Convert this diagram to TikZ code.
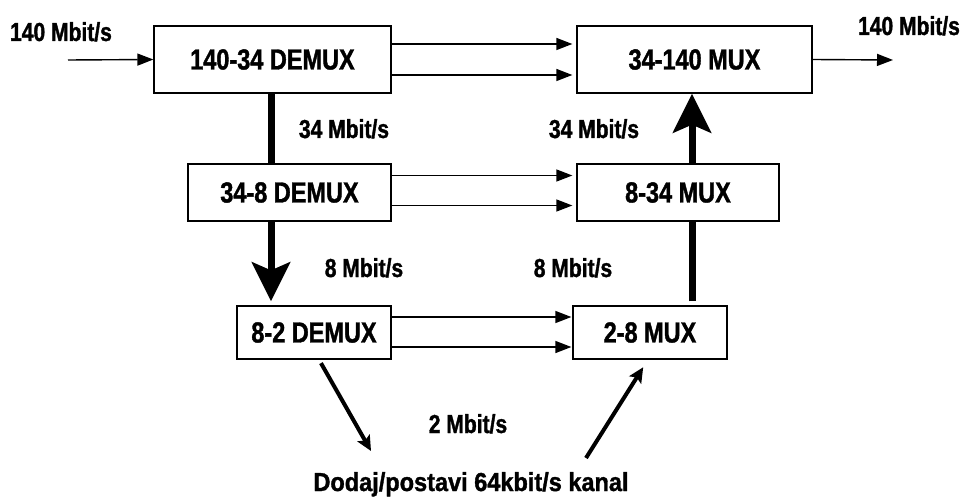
\documentclass[tikz,border=0pt]{standalone}
\usepackage{fontspec}
\newfontfamily\imp{Liberation Sans}[FakeStretch=0.81,FakeBold=1.3]
\newfontfamily\impw{Liberation Sans}[FakeStretch=0.905,FakeBold=1.3]
\usetikzlibrary{arrows.meta,calc}
\begin{document}
\begin{tikzpicture}[x=1pt,y=-1pt,
  box/.style={draw,line width=1.3pt,inner sep=0pt,font=\imp\bfseries\fontsize{29}{31}\selectfont},
  lbl/.style={anchor=base,inner sep=0pt,font=\imp\bfseries\fontsize{26}{28}\selectfont},
  thinarrow/.style={line width=1.4pt,-{Triangle[length=16pt,width=12pt]}},
  thickline/.style={line width=7pt},
  bigarrow/.style={line width=7pt,-{Stealth[length=39pt,width=38pt,inset=8pt]}},
  diagarrow/.style={line width=4pt,-{Stealth[length=15pt,width=14pt,inset=3pt]}}]
\useasboundingbox (0,0) rectangle (961,497);
% boxes
\node[box,minimum width=237pt,minimum height=67pt] (d1) at (272.5,59.5) {140-34 DEMUX};
\node[box,minimum width=203pt,minimum height=57pt] (d2) at (289.5,192.5) {34-8 DEMUX};
\node[box,minimum width=154pt,minimum height=53pt] (d3) at (314,332.5) {8-2 DEMUX};
\node[box,minimum width=235pt,minimum height=67pt] (m1) at (694.5,59.5) {34-140 MUX};
\node[box,minimum width=202pt,minimum height=57pt] (m2) at (678,192.5) {8-34 MUX};
\node[box,minimum width=154pt,minimum height=53pt] (m3) at (650,332.5) {2-8 MUX};
% helper coordinates
\coordinate (lx) at (271,0);
\coordinate (ux) at (692,0);
\coordinate (in) at (68,60);
\coordinate (out) at (893,60);
\coordinate (dd1) at (371,451);
\coordinate (dd2) at (586,458);
% labels
\node[lbl] (l1) at (61,41) {140 Mbit/s};
\node[lbl] (l2) at (909,35) {140 Mbit/s};
\node[lbl] (l3) at (344,138) {34 Mbit/s};
\node[lbl] (l4) at (594,138) {34 Mbit/s};
\node[lbl] (l5) at (364,277) {8 Mbit/s};
\node[lbl] (l6) at (573,277) {8 Mbit/s};
\node[lbl] (l7) at (468,433) {2 Mbit/s};
\node[lbl,font=\impw\bfseries\fontsize{26}{28}\selectfont] (l8) at (471,491) {Dodaj/postavi 64kbit/s kanal};
% input / output
\draw[thinarrow] (in) -- (d1.west);
\draw[thinarrow] (m1.east) -- (out);
% horizontal pairs
\draw[thinarrow,shorten >=4pt] ([yshift=15.5pt]d1.east) -- ([yshift=15.5pt]m1.west);
\draw[thinarrow,shorten >=4pt] ([yshift=-15.5pt]d1.east) -- ([yshift=-15.5pt]m1.west);
\draw[thinarrow,shorten >=4pt] ([yshift=17pt]d2.east) -- ([yshift=17pt]m2.west);
\draw[thinarrow,shorten >=4pt] ([yshift=-13pt]d2.east) -- ([yshift=-13pt]m2.west);
\draw[thinarrow,shorten >=1pt] ([yshift=15.5pt]d3.east) -- ([yshift=15.5pt]m3.west);
\draw[thinarrow,shorten >=1pt] ([yshift=-14.5pt]d3.east) -- ([yshift=-14.5pt]m3.west);
% vertical thick
\draw[thickline] (d1.south -| lx) -- (d2.north -| lx);
\draw[bigarrow,shorten >=4pt] (d2.south -| lx) -- (d3.north -| lx);
\draw[thickline,shorten <=4pt] (m3.north -| ux) -- (m2.south -| ux);
\draw[bigarrow] (m2.north -| ux) -- (m1.south -| ux);
% diagonals
\draw[diagarrow,shorten <=4pt] ([xshift=5pt]d3.south) -- (dd1);
\draw[diagarrow,shorten >=9pt] (dd2) -- ([xshift=-2pt]m3.south);
\end{tikzpicture}
\end{document}
